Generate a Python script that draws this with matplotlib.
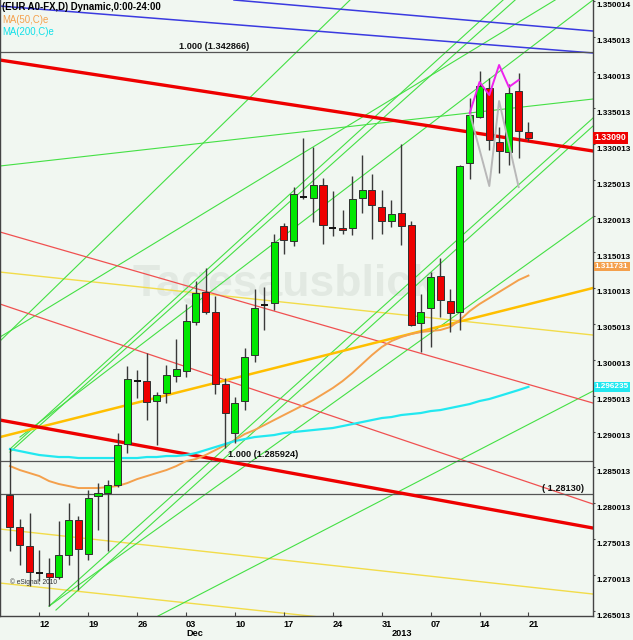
import matplotlib
matplotlib.use('Agg')
import matplotlib.pyplot as plt
import matplotlib.transforms as mtransforms

plt.rcParams['font.family'] = ['Liberation Sans', 'DejaVu Sans']

# EUR/USD daily bars, 7 Nov 2012 .. 21 Jan 2013 (weekdays)
opens = [1.28117, 1.27671, 1.27406, 1.27030, 1.27030, 1.26974, 1.27281, 1.27768, 1.27295, 1.28103,
         1.28144, 1.28256, 1.28827, 1.29704, 1.29704, 1.29426, 1.29537, 1.29774, 1.29844, 1.30526,
         1.30944, 1.30665, 1.29662, 1.28980, 1.29426, 1.30066, 1.30763, 1.30791, 1.31863, 1.31654,
         1.32267, 1.32253, 1.32434, 1.31835, 1.31835, 1.31835, 1.32253, 1.32365, 1.32128, 1.31933,
         1.32044, 1.31877, 1.30512, 1.30721, 1.31167, 1.30819, 1.30665, 1.32741, 1.33381, 1.33785,
         1.33033, 1.32894, 1.33743, 1.33172]
highs = [1.28771, 1.27782, 1.27866, 1.27350, 1.27239, 1.27754, 1.28005, 1.27824, 1.28186, 1.28284,
         1.28325, 1.28980, 1.29913, 1.29857, 1.30094, 1.29551, 1.29927, 1.30289, 1.30777, 1.31097,
         1.31278, 1.30888, 1.29746, 1.29481, 1.30164, 1.30986, 1.31014, 1.31752, 1.31905, 1.32406,
         1.33089, 1.32963, 1.32532, 1.32351, 1.32086, 1.32560, 1.32852, 1.32587, 1.32365, 1.32225,
         1.33005, 1.31933, 1.30916, 1.31222, 1.31417, 1.30986, 1.32713, 1.33646, 1.34022, 1.33924,
         1.33242, 1.33841, 1.33994, 1.33312]
lows = [1.27337, 1.27142, 1.26849, 1.26919, 1.26570, 1.26947, 1.27142, 1.26793, 1.27211, 1.27629,
        1.27337, 1.28228, 1.28701, 1.29468, 1.29161, 1.28813, 1.29398, 1.29690, 1.29760, 1.30484,
        1.30637, 1.29523, 1.28771, 1.28841, 1.29300, 1.29969, 1.30415, 1.30693, 1.31473, 1.31585,
        1.32239, 1.31919, 1.31612, 1.31724, 1.31752, 1.31738, 1.32044, 1.31682, 1.31752, 1.31849,
        1.31598, 1.30470, 1.30108, 1.30178, 1.30596, 1.30387, 1.30415, 1.32518, 1.33367, 1.32922,
        1.32601, 1.32713, 1.32810, 1.33047]
closes = [1.27671, 1.27420, 1.27044, 1.27030, 1.26974, 1.27281, 1.27768, 1.27364, 1.28075, 1.28144,
          1.28256, 1.28813, 1.29732, 1.29704, 1.29412, 1.29509, 1.29788, 1.29871, 1.30540, 1.30930,
          1.30665, 1.29662, 1.29259, 1.29398, 1.30039, 1.30721, 1.30763, 1.31640, 1.31668, 1.32309,
          1.32267, 1.32434, 1.31877, 1.31835, 1.31807, 1.32239, 1.32365, 1.32156, 1.31933, 1.32030,
          1.31863, 1.30484, 1.30665, 1.31153, 1.30832, 1.30651, 1.32699, 1.33409, 1.33813, 1.33061,
          1.32908, 1.33716, 1.33186, 1.33090]

ma50 = [1.28520, 1.28465, 1.28423, 1.28381, 1.28311, 1.28270, 1.28242, 1.28214, 1.28214, 1.28214,
        1.28228, 1.28242, 1.28284, 1.28339, 1.28381, 1.28423, 1.28465, 1.28520, 1.28590, 1.28618,
        1.28674, 1.28743, 1.28813, 1.28883, 1.28966, 1.29022, 1.29091, 1.29161, 1.29231, 1.29300,
        1.29370, 1.29440, 1.29523, 1.29607, 1.29704, 1.29816, 1.29941, 1.30066, 1.30178, 1.30261,
        1.30317, 1.30359, 1.30387, 1.30401, 1.30415, 1.30456, 1.30554, 1.30679, 1.30777, 1.30860,
        1.30944, 1.31027, 1.31111, 1.31173]
ma200 = [1.28757, 1.28729, 1.28701, 1.28674, 1.28660, 1.28646, 1.28646, 1.28632, 1.28632, 1.28632,
         1.28632, 1.28632, 1.28632, 1.28632, 1.28646, 1.28646, 1.28660, 1.28660, 1.28674, 1.28701,
         1.28743, 1.28785, 1.28827, 1.28869, 1.28896, 1.28924, 1.28938, 1.28952, 1.28980, 1.28994,
         1.29008, 1.29022, 1.29036, 1.29050, 1.29077, 1.29105, 1.29133, 1.29161, 1.29189, 1.29203,
         1.29231, 1.29245, 1.29259, 1.29286, 1.29300, 1.29328, 1.29356, 1.29384, 1.29426, 1.29454,
         1.29495, 1.29537, 1.29579, 1.29624]

tick_bars = [3, 8, 13, 18, 23, 28, 33, 38, 43, 48, 53]
tick_days = ['12', '19', '26', '03', '10', '17', '24', '31', '07', '14', '21']
month_bars = [18, 39]
month_names = ['Dec', '2013']

price_labels = ['1.265013', '1.270013', '1.275013', '1.280013', '1.285013', '1.290013',
                '1.295013', '1.300013', '1.305013', '1.310013', '1.315013', '1.320013',
                '1.325013', '1.330013', '1.335013', '1.340013', '1.345013', '1.350014']

# horizontal levels: value, label, label position (bar)
levels = [1.342866, 1.285924, 1.281300]
level_texts = ['1.000 (1.342866)', '1.000 (1.285924)', '( 1.28130)']
level_text_bars = [17.3, 22.3, 54.4]

# drawn trendlines: (bar0, price0, bar1, price1)
red_thick = [(-1.02, 1.34175, 59.6, 1.32908), (-1.02, 1.29161, 59.6, 1.27657)]
red_thin = [(-1.02, 1.30777, 59.6, 1.27991), (-1.02, 1.31780, 59.6, 1.29398)]
yellow_thin = [(-1.02, 1.31222, 59.6, 1.30345), (-1.02, 1.27643, 59.6, 1.26738),
               (-1.02, 1.26891, 59.6, 1.26013)]
gold_line = [(-1.02, 1.28924, 59.6, 1.31000)]
blue_lines = [(22.9, 1.35011, 59.6, 1.34579), (-1.02, 1.34927, 59.6, 1.34273)]
green_lines = [(-1.02, 1.32699, 59.6, 1.33632),
               (-1.02, 1.30261, 34.76, 1.35011),
               (0.0, 1.28757, 50.41, 1.35011),
               (0.0, 1.28715, 51.64, 1.35011),
               (-1.02, 1.30317, 55.73, 1.35011),
               (1.02, 1.28924, 59.6, 1.35011),
               (4.0, 1.26570, 59.6, 1.33367),
               (4.7, 1.26515, 59.6, 1.33256),
               (4.0, 1.26570, 59.6, 1.31988),
               (15.13, 1.26431, 59.6, 1.29565)]

pattern_bars = [47, 48, 49, 50, 51, 52]
pattern_top = [1.33437, 1.33869, 1.33688, 1.34106, 1.33799, 1.33897]
pattern_low_bars = [47, 49, 50, 52]
pattern_low = [1.33437, 1.32420, 1.33604, 1.32406]

last_close = 1.33090
last_ma50 = 1.311731
last_ma200 = 1.296235

BG = '#f1f7f1'
GREEN = '#00e800'
RED = '#ee0000'

fig = plt.figure(figsize=(6.33, 6.40), dpi=100, facecolor=BG)
ax = fig.add_axes([0, 24 / 640, 593 / 633, 616 / 640], facecolor=BG)
ax.set_xlim(-1.02, 59.6)
ax.set_ylim(1.26432, 1.35011)

# watermark
ax.text(28, 1.3105, 'Tagesausblick', fontsize=32, fontweight='bold', color='#e2e9e2',
        ha='center', va='center', zorder=0.5)

for b0, p0, b1, p1 in yellow_thin:
    ax.plot([b0, b1], [p0, p1], color='#f2dc4a', lw=1.0, zorder=1)
for b0, p0, b1, p1 in green_lines:
    ax.plot([b0, b1], [p0, p1], color='#44e044', lw=0.8, zorder=1)
for b0, p0, b1, p1 in red_thin:
    ax.plot([b0, b1], [p0, p1], color='#f05050', lw=0.9, zorder=1)
for b0, p0, b1, p1 in blue_lines:
    ax.plot([b0, b1], [p0, p1], color='#3a3ae0', lw=1.1, zorder=1)
for b0, p0, b1, p1 in gold_line:
    ax.plot([b0, b1], [p0, p1], color='#ffbf00', lw=1.8, zorder=1.5)
for b0, p0, b1, p1 in red_thick:
    ax.plot([b0, b1], [p0, p1], color=RED, lw=2.4, zorder=1.6)

for lv, txt, tb in zip(levels, level_texts, level_text_bars):
    ax.axhline(lv, color='#555555', lw=0.9, zorder=1.2)
    ax.text(tb, lv + 0.0002, txt, fontsize=6.6, fontweight='bold', ha='left', va='bottom',
            color='#111111', zorder=2)

bars = list(range(len(closes)))
ax.plot(bars, ma50, color='#f4a04c', lw=1.4, zorder=2)
ax.plot(bars, ma200, color='#22e8f0', lw=1.6, zorder=2)

# candles
ax.vlines(bars, lows, highs, color='#3a3a3a', lw=1.0, zorder=3)
for i, (o, c) in enumerate(zip(opens, closes)):
    if abs(c - o) < 0.00003:
        ax.hlines(o, i - 0.36, i + 0.36, color='#111111', lw=1.4, zorder=4)
    else:
        ax.bar(i, abs(c - o), bottom=min(o, c), width=0.72,
               color=GREEN if c > o else RED, edgecolor='#303030', lw=0.7, zorder=4)

ax.plot(pattern_low_bars, pattern_low, color='#b8b8b8', lw=1.4, zorder=5)
ax.plot(pattern_bars, pattern_top, color='#ee22ee', lw=1.4, zorder=5)

# axes styling
ax.spines['top'].set_visible(False)
for side in ['left', 'right', 'bottom']:
    ax.spines[side].set_color('#444444')
    ax.spines[side].set_linewidth(1.0)

ax.yaxis.tick_right()
ax.set_yticks([float(s) for s in price_labels])
ax.set_yticklabels(price_labels, fontweight='bold')
ax.tick_params(axis='y', direction='out', length=1.5, pad=1.0, labelsize=5.9, color='#444444')
# price scale labels sit a little below their tick
shift = mtransforms.ScaledTranslation(0, -4 / 100, fig.dpi_scale_trans)
for lab in ax.get_yticklabels():
    lab.set_transform(lab.get_transform() + shift)

ax.set_xticks(tick_bars)
ax.set_xticklabels(tick_days, fontweight='bold', ha='left')
ax.tick_params(axis='x', direction='in', length=3, pad=3, labelsize=6.6, color='#444444')
for mb, mn in zip(month_bars, month_names):
    ax.text(mb, -0.028, mn, transform=ax.get_xaxis_transform(), fontsize=6.6,
            fontweight='bold', ha='left', va='center', clip_on=False)

# last value boxes on the price scale
yax = ax.get_yaxis_transform()
ax.text(1.003, last_close, '1.33090', transform=yax, fontsize=6.3, fontweight='bold',
        color='white', ha='left', va='center', clip_on=False, zorder=10,
        bbox=dict(boxstyle='square,pad=0.2', fc='#ee0000', ec='none'))
ax.text(1.003, 1.31300, '1.311731', transform=yax, fontsize=5.9, fontweight='bold',
        color='white', ha='left', va='center', clip_on=False, zorder=10,
        bbox=dict(boxstyle='square,pad=0.15', fc='#f4a04c', ec='none'))
ax.text(1.003, last_ma200, '1.296235', transform=yax, fontsize=5.9, fontweight='bold',
        color='white', ha='left', va='center', clip_on=False, zorder=10,
        bbox=dict(boxstyle='square,pad=0.15', fc='#22e8f0', ec='none'))

# header
fig.text(2 / 633, 1 - 7 / 640, '(EUR A0-FX,D) Dynamic,0:00-24:00', fontsize=6.9,
         fontweight='bold', va='center', ha='left')
fig.text(2 / 633, 1 - 20 / 640, 'MA(50,C)e', fontsize=6.9, color='#f4a04c', va='center')
fig.text(2 / 633, 1 - 32 / 640, 'MA(200,C)e', fontsize=6.9, color='#10e0e8', va='center')
ax.text(0.006, 1.2690, '\u00a9 eSignal, 2010', fontsize=4.8, color='#333333', va='center')

fig.savefig('out.png', dpi=100, facecolor=BG)
